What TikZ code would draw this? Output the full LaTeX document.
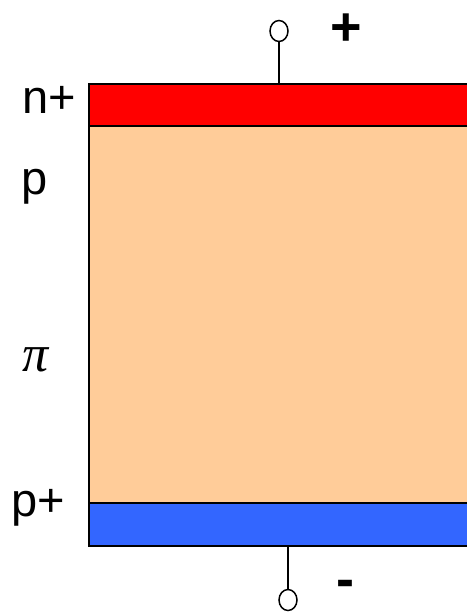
\documentclass[tikz,border=0pt]{standalone}
\usepackage{fontspec}
\usetikzlibrary{shapes.geometric}
\setmainfont{Liberation Sans}
\newfontfamily\pifont{Liberation Serif}
\definecolor{nred}{HTML}{FF0000}
\definecolor{pbody}{HTML}{FFCC99}
\definecolor{pblue}{HTML}{3366FF}
\begin{document}
\begin{tikzpicture}[x=1pt,y=-1pt,
  layer/.style={draw=black,line width=1.5pt},
  lbl/.style={font=\fontsize{47}{47}\selectfont,inner sep=0pt},
  sign/.style={font=\bfseries\fontsize{54}{54}\selectfont,inner sep=0pt},
  term/.style={ellipse,draw=black,line width=1.5pt,minimum width=18pt,minimum height=21pt,inner sep=0pt,fill=white},
  wire/.style={draw=black,line width=1.5pt}]
\useasboundingbox (0,0) rectangle (466,613);
\fill[pbody] (89,126) rectangle (470,503);
\draw[layer] (470,126) -- (89,126) -- (89,503) -- (470,503);
\draw[layer,fill=nred] (470,84) -- (89,84) -- (89,126) -- (470,126);
\draw[layer,fill=pblue] (470,503) -- (89,503) -- (89,546) -- (470,546);
\coordinate (ta) at (279,84);
\node[term] (tt) at (279,31) {};
\draw[wire] (ta) -- (tt);
\coordinate (ba) at (288,546);
\node[term] (bt) at (288,600) {};
\draw[wire] (ba) -- (bt);
\node[sign] (plus) at (346,30) {+};
\node[sign] (minus) at (345,589) {-};
\node[lbl] (nplus) at (49,100) {n+};
\node[lbl,anchor=base] (p) at (35,194) {p};
\node[font=\pifont\itshape\fontsize{52}{52}\selectfont,inner sep=0pt] (pi) at (36,360) {π};
\node[lbl] (pplus) at (38,508) {p+};
\end{tikzpicture}
\end{document}
